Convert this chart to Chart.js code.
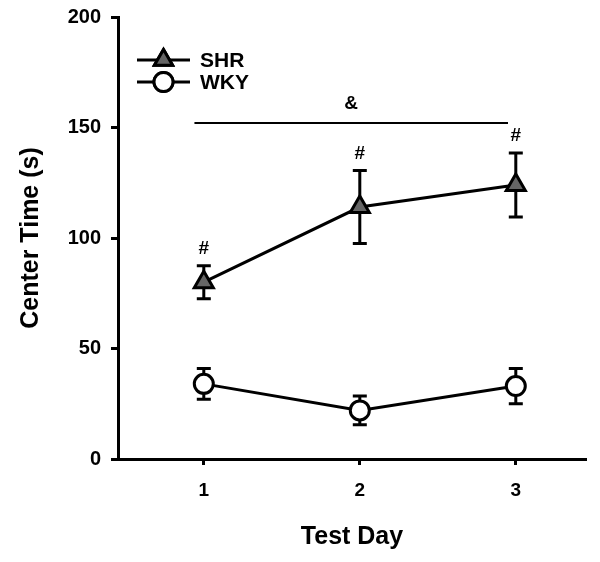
<!DOCTYPE html>
<html>
<head>
<meta charset="utf-8">
<script src="https://cdn.jsdelivr.net/npm/chart.js@4.4.1/dist/chart.umd.min.js"></script>
<style>
  html, body { margin: 0; padding: 0; background: #fff; }
  #wrap { width: 600px; height: 562px; position: relative; }
</style>
</head>
<body>
<div id="wrap"><canvas id="chart"></canvas></div>
<script>
// data
var days = [1, 2, 3];
var shrMean = [80, 114, 124];
var shrSem = [7.5, 16.5, 14.5];
var wkyMean = [34, 22, 33];
var wkySem = [7, 6.5, 8];
var yTicks = [0, 50, 100, 150, 200];
var sigMarks = ['#', '#', '#'];
var sigSpan = [0.94, 2.95]; // day range of the "&" bar
var sigLevel = 152;

var FONT = 'Liberation Sans, Arial, sans-serif';

function toPoints(m) {
  return days.map(function (d, i) { return { x: d, y: m[i] }; });
}

// error bars, # marks, & bar and legend
var extras = {
  id: 'extras',
  beforeDatasetsDraw: function (chart) {
    var ctx = chart.ctx, xs = chart.scales.x, ys = chart.scales.y;
    ctx.save();
    ctx.strokeStyle = '#000';
    ctx.lineWidth = 3;
    [[shrMean, shrSem], [wkyMean, wkySem]].forEach(function (s) {
      days.forEach(function (d, i) {
        var px = xs.getPixelForValue(d);
        var top = ys.getPixelForValue(s[0][i] + s[1][i]);
        var bot = ys.getPixelForValue(s[0][i] - s[1][i]);
        ctx.beginPath();
        ctx.moveTo(px, top); ctx.lineTo(px, bot);
        ctx.moveTo(px - 7, top); ctx.lineTo(px + 7, top);
        ctx.moveTo(px - 7, bot); ctx.lineTo(px + 7, bot);
        ctx.stroke();
      });
    });
    ctx.restore();
  },
  afterDatasetsDraw: function (chart) {
    var ctx = chart.ctx, xs = chart.scales.x, ys = chart.scales.y;
    ctx.save();
    ctx.fillStyle = '#000';
    ctx.font = 'bold 19px ' + FONT;
    ctx.textAlign = 'center';
    ctx.textBaseline = 'middle';
    days.forEach(function (d, i) {
      var px = xs.getPixelForValue(d);
      var top = ys.getPixelForValue(shrMean[i] + shrSem[i]);
      ctx.fillText(sigMarks[i], px, top - 17);
    });
    // & bar
    var y0 = ys.getPixelForValue(sigLevel);
    ctx.strokeStyle = '#000';
    ctx.lineWidth = 2;
    ctx.beginPath();
    ctx.moveTo(xs.getPixelForValue(sigSpan[0]), y0);
    ctx.lineTo(xs.getPixelForValue(sigSpan[1]), y0);
    ctx.stroke();
    ctx.fillText('&', xs.getPixelForValue((sigSpan[0] + sigSpan[1]) / 2), y0 - 19);

    // legend
    var lx = 137, lw = 53;
    var rows = [
      { label: 'SHR', y: 60, style: 'triangle', fill: '#666666', r: 10.5 },
      { label: 'WKY', y: 82, style: 'circle', fill: '#ffffff', r: 9.5 }
    ];
    rows.forEach(function (r) {
      ctx.lineWidth = 3;
      ctx.beginPath();
      ctx.moveTo(lx, r.y); ctx.lineTo(lx + lw, r.y);
      ctx.stroke();
      ctx.fillStyle = r.fill;
      Chart.helpers.drawPoint(ctx, { pointStyle: r.style, radius: r.r, borderWidth: 3 }, lx + lw / 2, r.y);
      ctx.fill();
      ctx.stroke();
      ctx.fillStyle = '#000';
      ctx.textAlign = 'left';
      ctx.font = 'bold 21px ' + FONT;
      ctx.fillText(r.label, 200, r.y + 1);
    });
    ctx.restore();
  }
};

var ctx = document.getElementById('chart');
new Chart(ctx, {
  type: 'line',
  data: {
    datasets: [{
      label: 'SHR',
      data: toPoints(shrMean),
      borderColor: '#000',
      borderWidth: 3,
      pointStyle: 'triangle',
      pointRadius: 11,
      pointBackgroundColor: '#666666',
      pointBorderColor: '#000',
      pointBorderWidth: 3,
      fill: false
    }, {
      label: 'WKY',
      data: toPoints(wkyMean),
      borderColor: '#000',
      borderWidth: 3,
      pointStyle: 'circle',
      pointRadius: 9.5,
      pointBackgroundColor: '#ffffff',
      pointBorderColor: '#000',
      pointBorderWidth: 3,
      fill: false
    }]
  },
  options: {
    responsive: true,
    maintainAspectRatio: false,
    animation: false,
    layout: { padding: { top: 17, right: 11, left: 0, bottom: 0 } },
    plugins: { legend: { display: false }, tooltip: { enabled: false } },
    scales: {
      x: {
        type: 'linear',
        min: 0.45,
        max: 3.45,
        afterBuildTicks: function (s) { s.ticks = days.map(function (d) { return { value: d }; }); },
        afterFit: function (s) { s.height = 103; s.paddingLeft = 0; s.paddingRight = 0; },
        grid: { display: true, drawOnChartArea: false, color: '#000', tickLength: 6, tickWidth: 3 },
        border: { display: true, color: '#000', width: 3 },
        ticks: { color: '#000', padding: 14, font: { family: FONT, size: 19, weight: 'bold' } },
        title: { display: true, text: 'Test Day', color: '#000', padding: { top: 0, bottom: 10 },
          font: { family: FONT, size: 25, weight: 'bold' } }
      },
      y: {
        min: 0,
        max: 200,
        afterBuildTicks: function (s) { s.ticks = yTicks.map(function (v) { return { value: v }; }); },
        afterFit: function (s) { s.width = 118; s.paddingTop = 0; s.paddingBottom = 0; },
        grid: { display: true, drawOnChartArea: false, color: '#000', tickLength: 7, tickWidth: 3 },
        border: { display: true, color: '#000', width: 3 },
        ticks: { color: '#000', padding: 10, font: { family: FONT, size: 20, weight: 'bold' } },
        title: { display: true, text: 'Center Time (s)', color: '#000', padding: { top: 16, bottom: 0 },
          font: { family: FONT, size: 25, weight: 'bold' } }
      }
    }
  },
  plugins: [extras]
});
</script>
</body>
</html>
